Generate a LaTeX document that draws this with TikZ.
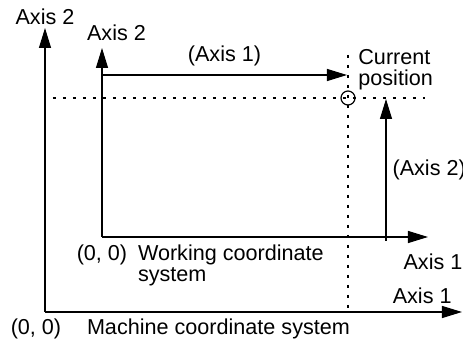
\documentclass[tikz,border=0pt]{standalone}
\usepackage{fontspec}
\setmainfont{Liberation Sans}
\usetikzlibrary{arrows.meta, positioning}

\begin{document}
\begin{tikzpicture}[
    x=0.5pt, y=-0.5pt,
    axis/.style={draw=black, line width=0.6pt, -{Triangle[length=10pt, width=6pt]}},
    guide/.style={draw=black, line width=0.6pt, dash pattern=on 1.5pt off 3.5pt},
    marker/.style={circle, draw=black, line width=0.6pt, minimum size=7pt, inner sep=0pt},
    txt/.style={font=\fontsize{10.8}{10.5}\selectfont, inner sep=0pt, align=left}
]

    \useasboundingbox (0,0) rectangle (463,342);

    % --- Machine coordinate system ---
    \coordinate (mo) at (45,312);
    \coordinate (mx) at (462,312);
    \coordinate (my) at (45,28);
    \draw [axis] (mo) -- (mx);
    \draw [axis] (mo) -- (my);

    \node [txt, above=1.5pt of my] (myl) {Axis 2};
    \node [txt, above left=4pt and 5pt of mx] (mxl) {Axis 1};
    \node [txt, below=3pt of mo, xshift=-4.5pt] (mzero) {(0, 0)};
    \node [txt, anchor=north west] (mname) at ([xshift=12.5pt]mzero.north east) {Machine coordinate system};

    % --- Working coordinate system ---
    \coordinate (wo) at (102,237);
    \coordinate (wx) at (428,237);
    \coordinate (wy) at (102,48);
    \draw [axis] (wo) -- (wx);
    \draw [axis] (wo) -- (wy);

    \node [txt, above=3.5pt of wy, xshift=7.25pt] (wyl) {Axis 2};
    \node [txt, below=8pt of wx, xshift=2.5pt] (wxl) {Axis 1};
    \node [txt, below=3.5pt of wo] (wzero) {(0, 0)};
    \node [txt, anchor=north west] (wname) at ([xshift=5pt]wzero.north east) {Working coordinate\\system};

    % --- Current position ---
    \node [marker] (cur) at (348,98) {};
    \coordinate (hl) at (53,98);
    \coordinate (hr) at (425,98);
    \coordinate (vt) at (348,55);
    \coordinate (vb) at (348,312);
    \path [guide] (hl) -- (hr);
    \path [guide] (vt) -- (vb);

    \node [txt, above right=4pt and 5pt of cur.center] (curl) {Current\\position};

    % --- Moves along the axes ---
    \coordinate (a1s) at (102,75);
    \coordinate (a1e) at (347,75);
    \draw [axis] (a1s) -- node [txt, above=4pt] (a1l) {(Axis 1)} (a1e);

    \coordinate (a2s) at (386,241);
    \coordinate (a2e) at (386,99);
    \draw [axis] (a2s) -- node [txt, right=3pt] (a2l) {(Axis 2)} (a2e);

\end{tikzpicture}
\end{document}
